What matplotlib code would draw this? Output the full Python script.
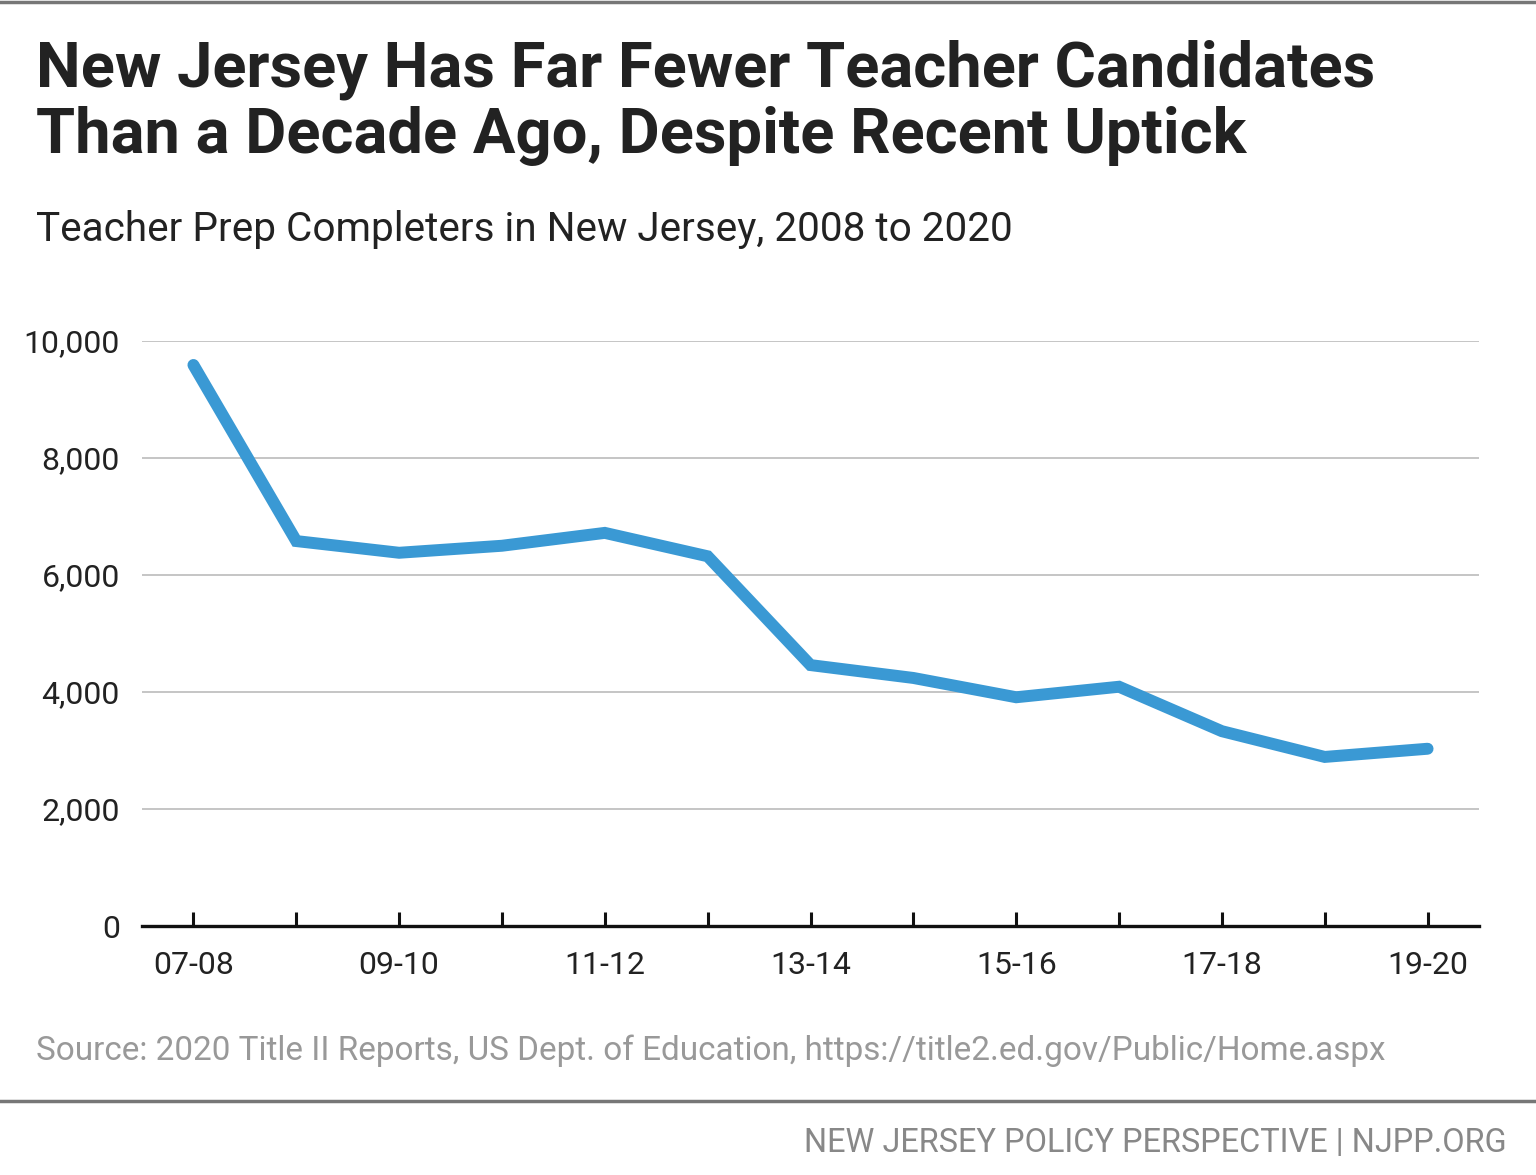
import matplotlib
matplotlib.use("Agg")
import matplotlib.pyplot as plt
from matplotlib import font_manager
from matplotlib.lines import Line2D

# ---- data ----
years = ["07-08", "08-09", "09-10", "10-11", "11-12", "12-13", "13-14",
         "14-15", "15-16", "16-17", "17-18", "18-19", "19-20"]
completers = [9590, 6580, 6380, 6500, 6720, 6320, 4460, 4240, 3910, 4090, 3330, 2890, 3030]
yticks = [0, 2000, 4000, 6000, 8000, 10000]
ytick_labels = ["0", "2,000", "4,000", "6,000", "8,000", "10,000"]
xtick_labels = [y if i % 2 == 0 else "" for i, y in enumerate(years)]

title = "New Jersey Has Far Fewer Teacher Candidates\nThan a Decade Ago, Despite Recent Uptick"
subtitle = "Teacher Prep Completers in New Jersey, 2008 to 2020"
source = "Source: 2020 Title II Reports, US Dept. of Education, https://title2.ed.gov/Public/Home.aspx"
footer = "NEW JERSEY POLICY PERSPECTIVE | NJPP.ORG"

def pick(names):
    for n in names:
        try:
            font_manager.findfont(n, fallback_to_default=False)
            return n
        except Exception:
            pass
    return "DejaVu Sans"

NARROW = pick(["Liberation Sans Narrow", "Roboto", "Liberation Sans"])

W, H = 1536, 1175
fig = plt.figure(figsize=(W / 100, H / 100), dpi=100)
fig.patch.set_facecolor("white")

ax = fig.add_axes([142 / W, 1 - 926 / H, (1479 - 142) / W, (926 - 341) / H])
ax.plot(range(len(years)), completers, color="#3a99d4", lw=8.6,
        solid_capstyle="round", solid_joinstyle="miter", clip_on=False, zorder=3)
ax.set_xlim(-0.5, 12.5)
ax.set_ylim(0, 10000)
ax.set_yticks(yticks)
ax.set_yticklabels(ytick_labels)
ax.set_xticks(range(len(years)))
ax.set_xticklabels(xtick_labels)
for s in ["top", "right", "left"]:
    ax.spines[s].set_visible(False)
ax.spines["bottom"].set_linewidth(2.4)
ax.spines["bottom"].set_color("#111111")
ax.spines["bottom"].set_zorder(4)
ax.grid(axis="y", color="#bbbbbb", lw=1.2)
ax.set_axisbelow(True)
ax.tick_params(axis="y", length=0, pad=16, labelsize=23, labelcolor="#222222")
ax.tick_params(axis="x", direction="in", length=10, width=2.2, color="#111111",
               pad=18, labelsize=23, labelcolor="#222222")
for lab in ax.get_xticklabels() + ax.get_yticklabels():
    lab.set_family(NARROW)

renderer = fig.canvas.get_renderer()

def fit(t, width_px):
    bb = t.get_window_extent(renderer)
    t.set_fontsize(t.get_fontsize() * width_px / bb.width)

t1 = fig.text(36 / W, 1 - 40 / H, title, family=NARROW, weight="bold", fontsize=40,
              color="#222222", va="top", ha="left", linespacing=1.12)
fit(t1, 1376 - 36)
t2 = fig.text(36 / W, 1 - 241 / H, subtitle, family=NARROW, fontsize=30,
              color="#222222", va="baseline", ha="left")
fit(t2, 1010 - 36)
t3 = fig.text(36 / W, 1 - 1060 / H, source, family=NARROW, fontsize=24,
              color="#999999", va="baseline", ha="left")
fit(t3, 1386 - 36)
t4 = fig.text(1507 / W, 1 - 1152 / H, footer, family=NARROW, fontsize=24,
              color="#888888", va="baseline", ha="right")
fit(t4, 1507 - 801)

fig.add_artist(Line2D([0, 1], [1 - 1.5 / H, 1 - 1.5 / H], color="#777777", lw=2.5,
                      transform=fig.transFigure))
fig.add_artist(Line2D([0, 1], [1 - 1101 / H, 1 - 1101 / H], color="#777777", lw=2.5,
                      transform=fig.transFigure))

fig.savefig("out.png", dpi=100, facecolor="white")
